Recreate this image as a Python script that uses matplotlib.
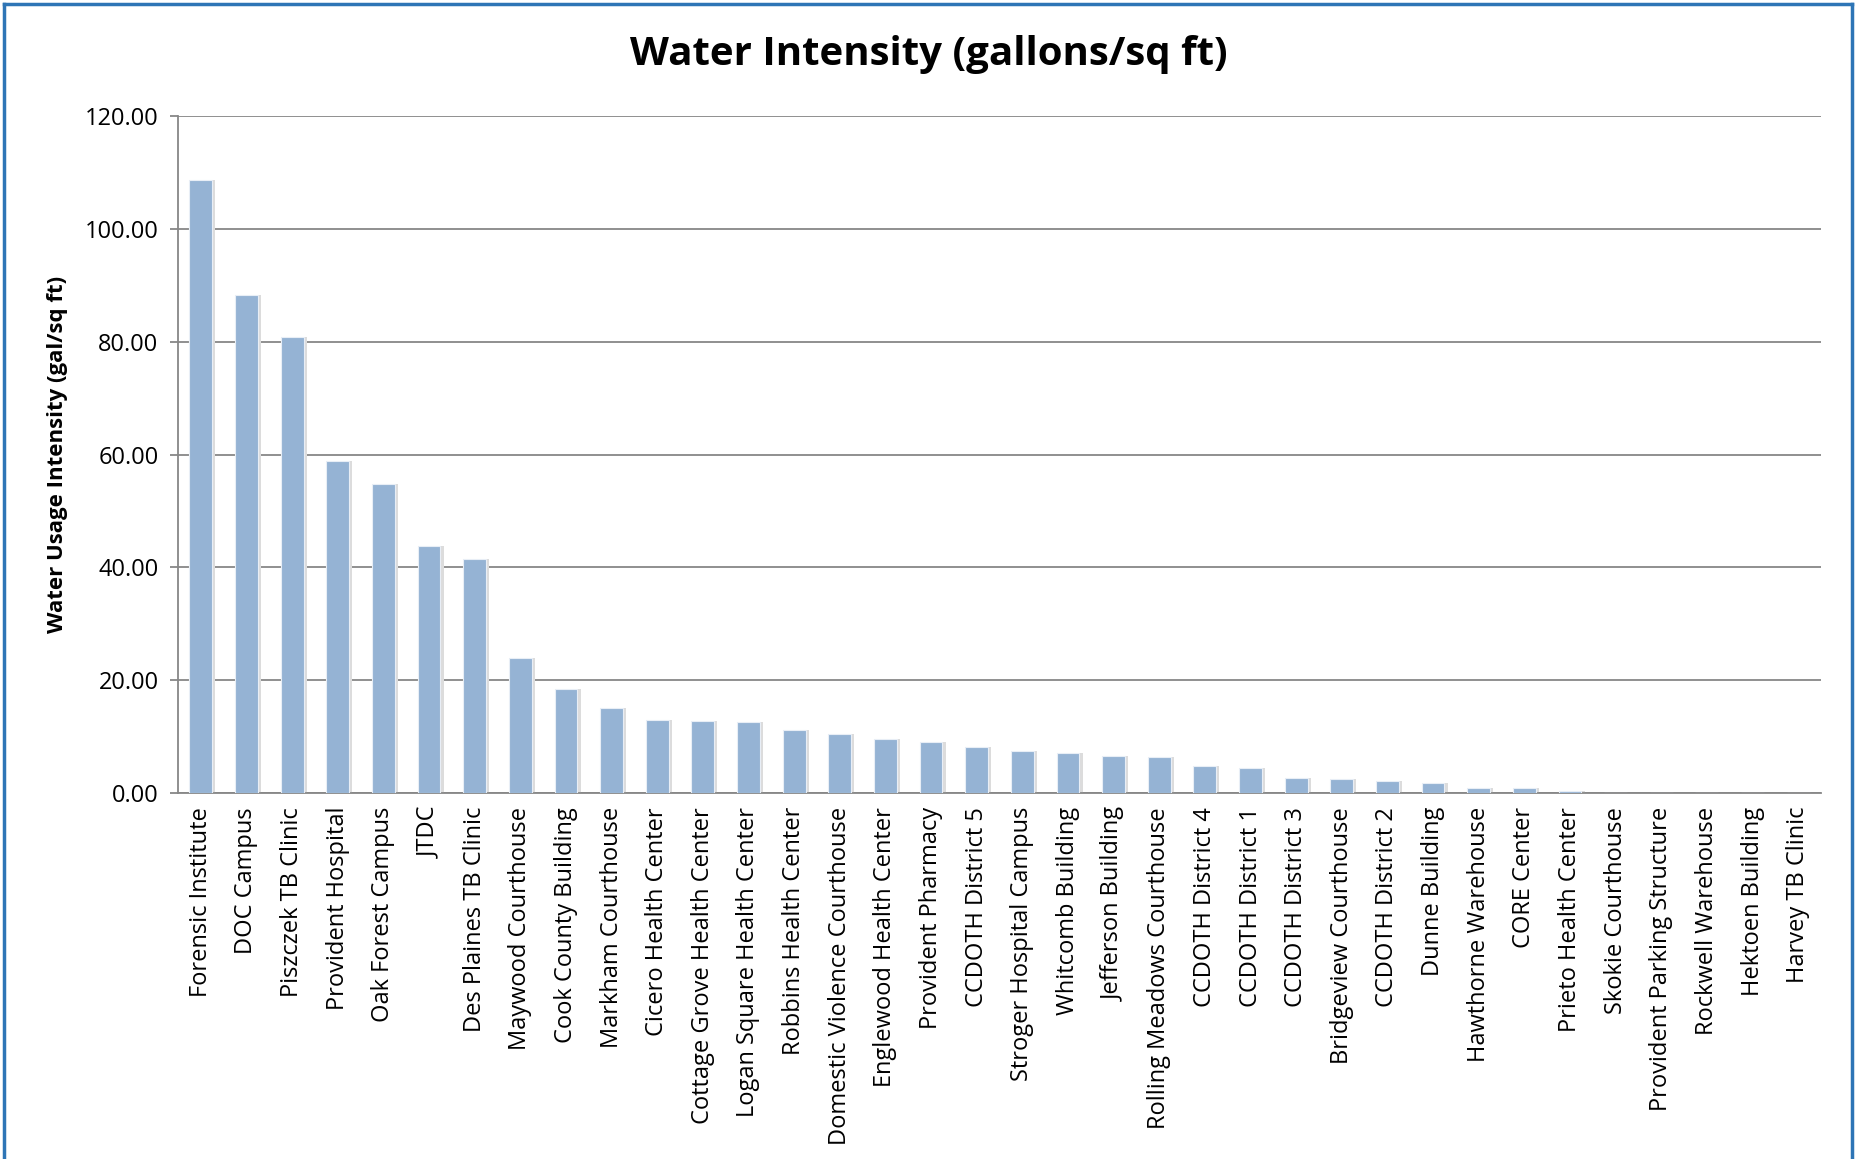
import matplotlib.pyplot as plt
from matplotlib.lines import Line2D
import numpy as np

# gebouwen en waterintensiteit (gal/sq ft)
gebouwen = [
    "Forensic Institute", "DOC Campus", "Piszczek TB Clinic", "Provident Hospital",
    "Oak Forest Campus", "JTDC", "Des Plaines TB Clinic", "Maywood Courthouse",
    "Cook County Building", "Markham Courthouse", "Cicero Health Center",
    "Cottage Grove Health Center", "Logan Square Health Center", "Robbins Health Center",
    "Domestic Violence Courthouse", "Englewood Health Center", "Provident Pharmacy",
    "CCDOTH District 5", "Stroger Hospital Campus", "Whitcomb Building",
    "Jefferson Building", "Rolling Meadows Courthouse", "CCDOTH District 4",
    "CCDOTH District 1", "CCDOTH District 3", "Bridgeview Courthouse",
    "CCDOTH District 2", "Dunne Building", "Hawthorne Warehouse", "CORE Center",
    "Prieto Health Center", "Skokie Courthouse", "Provident Parking Structure",
    "Rockwell Warehouse", "Hektoen Building", "Harvey TB Clinic",
]
intensiteit = [
    108.7, 88.3, 80.8, 58.9, 54.8, 43.8, 41.5, 23.9,
    18.5, 15.1, 13.0, 12.8, 12.6, 11.1, 10.5, 9.6, 9.0,
    8.2, 7.5, 7.1, 6.6, 6.3, 4.7, 4.4, 2.6, 2.5,
    2.2, 1.7, 0.8, 0.8, 0.3, 0.0, 0.0, 0.0, 0.0, 0.0,
]
yticks = [0, 20, 40, 60, 80, 100, 120]

plt.rcParams['font.family'] = ['Open Sans', 'DejaVu Sans']

fig = plt.figure(figsize=(18.57, 11.59), dpi=100)
ax = fig.add_axes([178 / 1857, 1 - 793 / 1159, (1821 - 178) / 1857, (793 - 116) / 1159])

x = np.arange(len(gebouwen))
# zachte schaduw achter de balken
ax.bar(x + 0.06, intensiteit, width=0.52, color='#dcdcdc', zorder=2)
ax.bar(x, intensiteit, width=0.5, color='#95b3d4', edgecolor='#e8eef6', linewidth=0.8, zorder=3)

ax.set_xlim(-0.5, len(gebouwen) - 0.5)
ax.set_ylim(0, 120)
ax.set_yticks(yticks)
ax.set_yticklabels([f"{v:.2f}" for v in yticks], fontsize=17)
ax.yaxis.grid(True, color='#878787', linewidth=1.3, zorder=1)
ax.set_axisbelow(True)

ax.set_xticks(x)
ax.set_xticklabels(gebouwen, rotation=90, fontsize=17)
ax.tick_params(axis='x', length=0, pad=10)
ax.tick_params(axis='y', length=6, color='#878787', width=1.3, pad=8)

for s in ['top', 'right']:
    ax.spines[s].set_visible(False)
for s in ['left', 'bottom']:
    ax.spines[s].set_color('#878787')
    ax.spines[s].set_linewidth(1.3)

ax.set_ylabel('Water Usage Intensity (gal/sq ft)', fontsize=16, fontweight='bold', labelpad=12)
fig.text(929 / 1857, 1 - 55 / 1159, 'Water Intensity (gallons/sq ft)',
         ha='center', va='center', fontsize=29, fontweight='bold')

# blauwe rand rond de grafiek
rand = dict(color='#2e75b6', linewidth=2.5, transform=fig.transFigure)
fig.add_artist(Line2D([4 / 1857, 4 / 1857], [0, 1 - 4 / 1159], **rand))
fig.add_artist(Line2D([4 / 1857, 1852 / 1857], [1 - 4 / 1159, 1 - 4 / 1159], **rand))
fig.add_artist(Line2D([1852 / 1857, 1852 / 1857], [0, 1 - 4 / 1159], **rand))

fig.savefig('out.png', dpi=100)
